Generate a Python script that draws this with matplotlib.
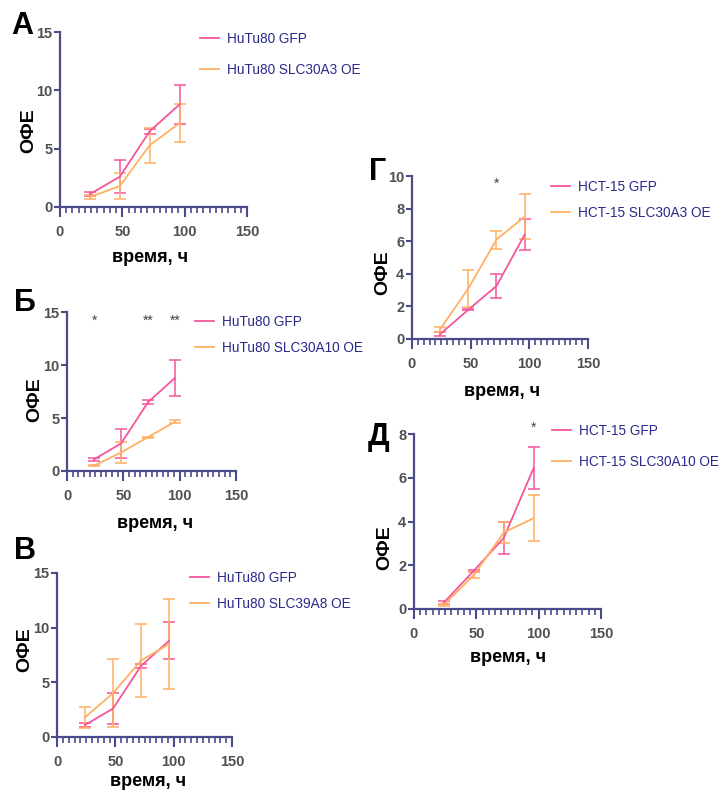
import numpy as np
import matplotlib
matplotlib.use("Agg")
import matplotlib.pyplot as plt
from matplotlib.ticker import MultipleLocator

plt.rcParams['font.family'] = ['Liberation Sans', 'DejaVu Sans']

# данные (время, ч)
hours = [24, 48, 72, 96]

# HuTu80
hutu_gfp = [1.1, 2.6, 6.5, 8.8]
hutu_gfp_err = [0.15, 1.4, 0.2, 1.7]
hutu_slc30a3 = [0.85, 1.8, 5.3, 7.2]
hutu_slc30a3_err = [0.15, 1.15, 1.5, 1.6]
hutu_slc30a10 = [0.5, 1.75, 3.2, 4.65]
hutu_slc30a10_err = [0.05, 1.0, 0.05, 0.15]
hutu_slc39a8 = [1.8, 4.0, 7.0, 8.5]
hutu_slc39a8_err = [0.95, 3.1, 3.3, 4.1]

# HCT-15
hct_gfp_g = [0.3, 1.8, 3.25, 6.4]
hct_gfp_g_err = [0.1, 0.05, 0.72, 0.95]
hct_slc30a3 = [0.6, 3.1, 6.1, 7.5]
hct_slc30a3_err = [0.15, 1.15, 0.55, 1.37]
hct_gfp_d = [0.3, 1.75, 3.25, 6.45]
hct_gfp_d_err = [0.05, 0.05, 0.72, 0.97]
hct_slc30a10 = [0.2, 1.55, 3.5, 4.15]
hct_slc30a10_err = [0.05, 0.15, 0.5, 1.05]

PINK = '#f5559c'
ORANGE = '#ffb062'
AXIS = '#4b4b8c'
LEGEND_TXT = '#2a2a8a'
TICK_TXT = '#505050'

W, H = 725, 794
fig = plt.figure(figsize=(W / 100, H / 100), dpi=100)


def fx(x):
    return x / W


def fy(y):
    return 1 - y / H


def make_panel(left, right, top, bottom, ymax, ystep):
    ax = fig.add_axes([fx(left), fy(bottom), fx(right - left), (bottom - top) / H])
    ax.set_xlim(0, 150)
    ax.set_ylim(0, ymax)
    ax.spines['top'].set_visible(False)
    ax.spines['right'].set_visible(False)
    for s in ['left', 'bottom']:
        ax.spines[s].set_color(AXIS)
        ax.spines[s].set_linewidth(1.6)
    ax.xaxis.set_major_locator(MultipleLocator(50))
    ax.xaxis.set_minor_locator(MultipleLocator(5))
    ax.yaxis.set_major_locator(MultipleLocator(ystep))
    ax.tick_params(axis='both', which='major', colors=AXIS, width=1.5,
                   labelcolor=TICK_TXT, labelsize=10.5)
    ax.tick_params(axis='x', which='major', length=7, pad=6)
    ax.tick_params(axis='y', which='major', length=4, pad=1.5)
    ax.tick_params(axis='x', which='minor', colors=AXIS, width=1.2, length=4)
    for lab in ax.get_xticklabels() + ax.get_yticklabels():
        lab.set_fontweight('bold')
    ax.patch.set_alpha(0)
    return ax


def series(ax, y, err, color):
    c = ax.errorbar(hours, y, yerr=err, color=color, lw=1.3, elinewidth=1.1,
                    capsize=4, capthick=1.1, clip_on=False)
    return c.lines[0]


def legend(ax, handles, names, x, y, spacing):
    ax.legend(handles, names, loc='upper left', bbox_to_anchor=(fx(x), fy(y)),
              bbox_transform=fig.transFigure, frameon=False, fontsize=9.8,
              handlelength=1.4, handletextpad=0.55, labelspacing=spacing,
              borderpad=0, borderaxespad=0, labelcolor=LEGEND_TXT)


def labels(letter, lpos, ypos, xpos):
    fig.text(fx(lpos[0]), fy(lpos[1]), letter, fontsize=22, fontweight='bold',
             ha='center', va='center')
    fig.text(fx(ypos[0]), fy(ypos[1]), 'ОФЕ', fontsize=14, fontweight='bold',
             rotation=90, ha='center', va='center')
    fig.text(fx(xpos[0]), fy(xpos[1]), 'время, ч', fontsize=13, fontweight='bold',
             ha='center', va='center')


# А
ax = make_panel(60, 247, 32, 207, 15, 5)
h = [series(ax, hutu_gfp, hutu_gfp_err, PINK),
     series(ax, hutu_slc30a3, hutu_slc30a3_err, ORANGE)]
legend(ax, h, ['HuTu80 GFP', 'HuTu80 SLC30A3 OE'], 200, 32, 1.25)
labels('А', (22, 26), (29, 131), (150, 257))

# Б
ax = make_panel(67, 236, 312, 471, 15, 5)
h = [series(ax, hutu_gfp, hutu_gfp_err, PINK),
     series(ax, hutu_slc30a10, hutu_slc30a10_err, ORANGE)]
for xs, s in zip([24, 72, 96], ['*', '**', '**']):
    ax.text(xs, 14.2, s, ha='center', va='center', fontsize=10, color='#444444')
legend(ax, h, ['HuTu80 GFP', 'HuTu80 SLC30A10 OE'], 195, 315, 0.9)
labels('Б', (25, 303), (35, 400), (155, 523))

# В
ax = make_panel(57, 232, 573, 737, 15, 5)
h = [series(ax, hutu_gfp, hutu_gfp_err, PINK),
     series(ax, hutu_slc39a8, hutu_slc39a8_err, ORANGE)]
legend(ax, h, ['HuTu80 GFP', 'HuTu80 SLC39A8 OE'], 190, 571, 0.9)
labels('В', (25, 551), (25, 650), (148, 781))

# Г
ax = make_panel(412, 588, 176, 339, 10, 2)
h = [series(ax, hct_gfp_g, hct_gfp_g_err, PINK),
     series(ax, hct_slc30a3, hct_slc30a3_err, ORANGE)]
ax.text(72, 9.5, '*', ha='center', va='center', fontsize=10, color='#444444')
legend(ax, h, ['HCT-15 GFP', 'HCT-15 SLC30A3 OE'], 551, 180, 0.9)
labels('Г', (378, 172), (383, 273), (502, 391))

# Д
ax = make_panel(414, 601, 434, 609, 8, 2)
h = [series(ax, hct_gfp_d, hct_gfp_d_err, PINK),
     series(ax, hct_slc30a10, hct_slc30a10_err, ORANGE)]
ax.text(96, 8.3, '*', ha='center', va='center', fontsize=10, color='#444444')
legend(ax, h, ['HCT-15 GFP', 'HCT-15 SLC30A10 OE'], 552, 424, 1.25)
labels('Д', (379, 437), (385, 548), (508, 657))

fig.savefig('out.png', dpi=100)
